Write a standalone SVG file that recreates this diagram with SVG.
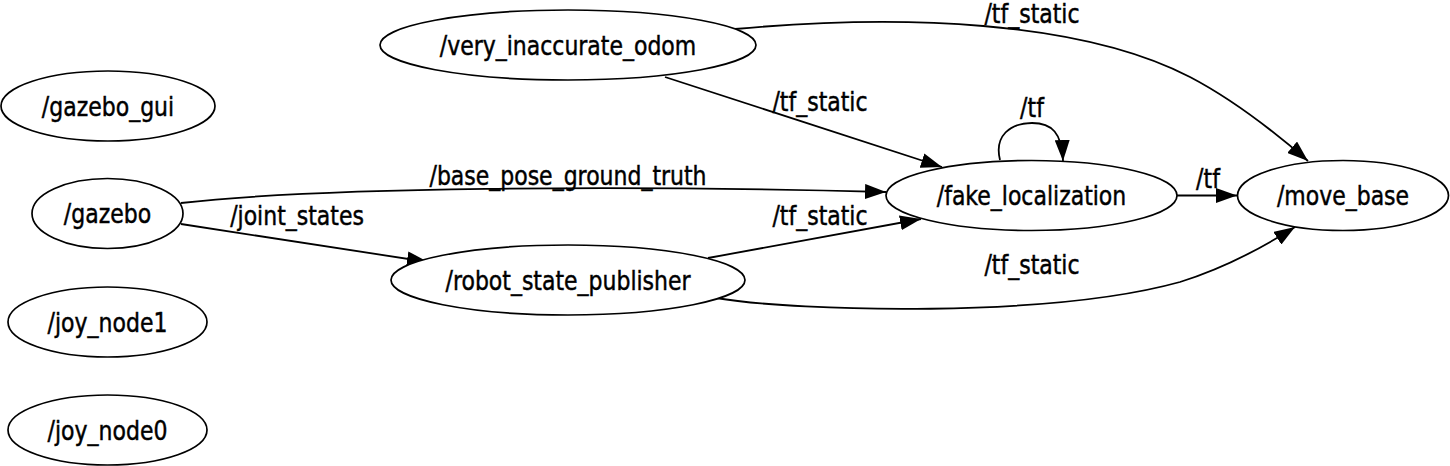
<svg xmlns="http://www.w3.org/2000/svg" width="1450" height="466" viewBox="0 0 1450 466">
<style>
.n ellipse{fill:#fff;stroke:#000;stroke-width:1.7}
text{font-family:"DejaVu Sans",sans-serif;font-size:22px;fill:#000;stroke:#000;stroke-width:0.4;text-anchor:middle}
.e path{fill:none;stroke:#000;stroke-width:1.8}
</style>
<defs>
<marker id="ah" viewBox="0 0 21 15" refX="21" refY="7.5" markerWidth="21" markerHeight="15" markerUnits="userSpaceOnUse" orient="auto">
<path d="M0,0 L21,7.5 L0,15 z" fill="#000" stroke="none"/>
</marker>
</defs>
<rect width="1450" height="466" fill="#fff"/>
<g class="e" id="connectors">
<path d="M735,29 C900,14 1080,20 1190,77 C1232,99 1270,128 1308,161" marker-end="url(#ah)"/>
<text transform="translate(1032,23) scale(1,1.2)">/tf_static</text>
<path d="M665,77 L942,167" marker-end="url(#ah)"/>
<text transform="translate(820,111) scale(1,1.22)">/tf_static</text>
<path d="M1000,160 C994,136 1010,123 1032,123 C1052,123 1062,133 1063,161" marker-end="url(#ah)"/>
<text transform="translate(1032,117) scale(1,1.22)">/tf</text>
<path d="M181,203 C320,187 620,185 886,192" marker-end="url(#ah)"/>
<text transform="translate(568,184.5) scale(1,1.22)">/base_pose_ground_truth</text>
<path d="M181,224 L428,262" marker-end="url(#ah)"/>
<text transform="translate(297,225) scale(1,1.22)">/joint_states</text>
<path d="M708,258 L921,219" marker-end="url(#ah)"/>
<text transform="translate(820,225) scale(1,1.22)">/tf_static</text>
<path d="M716,298 C800,312 1050,318 1180,282 C1225,268 1262,248 1295,227" marker-end="url(#ah)"/>
<text transform="translate(1032,274) scale(1,1.22)">/tf_static</text>
<path d="M1177,195.5 L1237,195.5" marker-end="url(#ah)"/>
<text transform="translate(1208,188) scale(1,1.22)">/tf</text>
</g>
<g class="n" id="very_inaccurate_odom"><ellipse cx="568" cy="45" rx="188" ry="35"/><text transform="translate(568,54.5) scale(1,1.22)">/very_inaccurate_odom</text></g>
<g class="n" id="gazebo_gui"><ellipse cx="108" cy="106" rx="107" ry="35"/><text transform="translate(108,115.5) scale(1,1.22)">/gazebo_gui</text></g>
<g class="n" id="gazebo"><ellipse cx="107.5" cy="213.5" rx="75.5" ry="35"/><text transform="translate(107.5,223) scale(1,1.22)">/gazebo</text></g>
<g class="n" id="joy_node1"><ellipse cx="107.5" cy="322" rx="99.5" ry="35"/><text transform="translate(107.5,331.5) scale(1,1.22)">/joy_node1</text></g>
<g class="n" id="joy_node0"><ellipse cx="107.5" cy="430" rx="99.5" ry="35"/><text transform="translate(107.5,439.5) scale(1,1.22)">/joy_node0</text></g>
<g class="n" id="robot_state_publisher"><ellipse cx="568" cy="280" rx="177" ry="35"/><text transform="translate(568,289.5) scale(1,1.22)">/robot_state_publisher</text></g>
<g class="n" id="fake_localization"><ellipse cx="1031.5" cy="195.5" rx="145.5" ry="35"/><text transform="translate(1031.5,205) scale(1,1.22)">/fake_localization</text></g>
<g class="n" id="move_base"><ellipse cx="1343" cy="195.5" rx="105.5" ry="35"/><text transform="translate(1343,205) scale(1,1.22)">/move_base</text></g>
</svg>
